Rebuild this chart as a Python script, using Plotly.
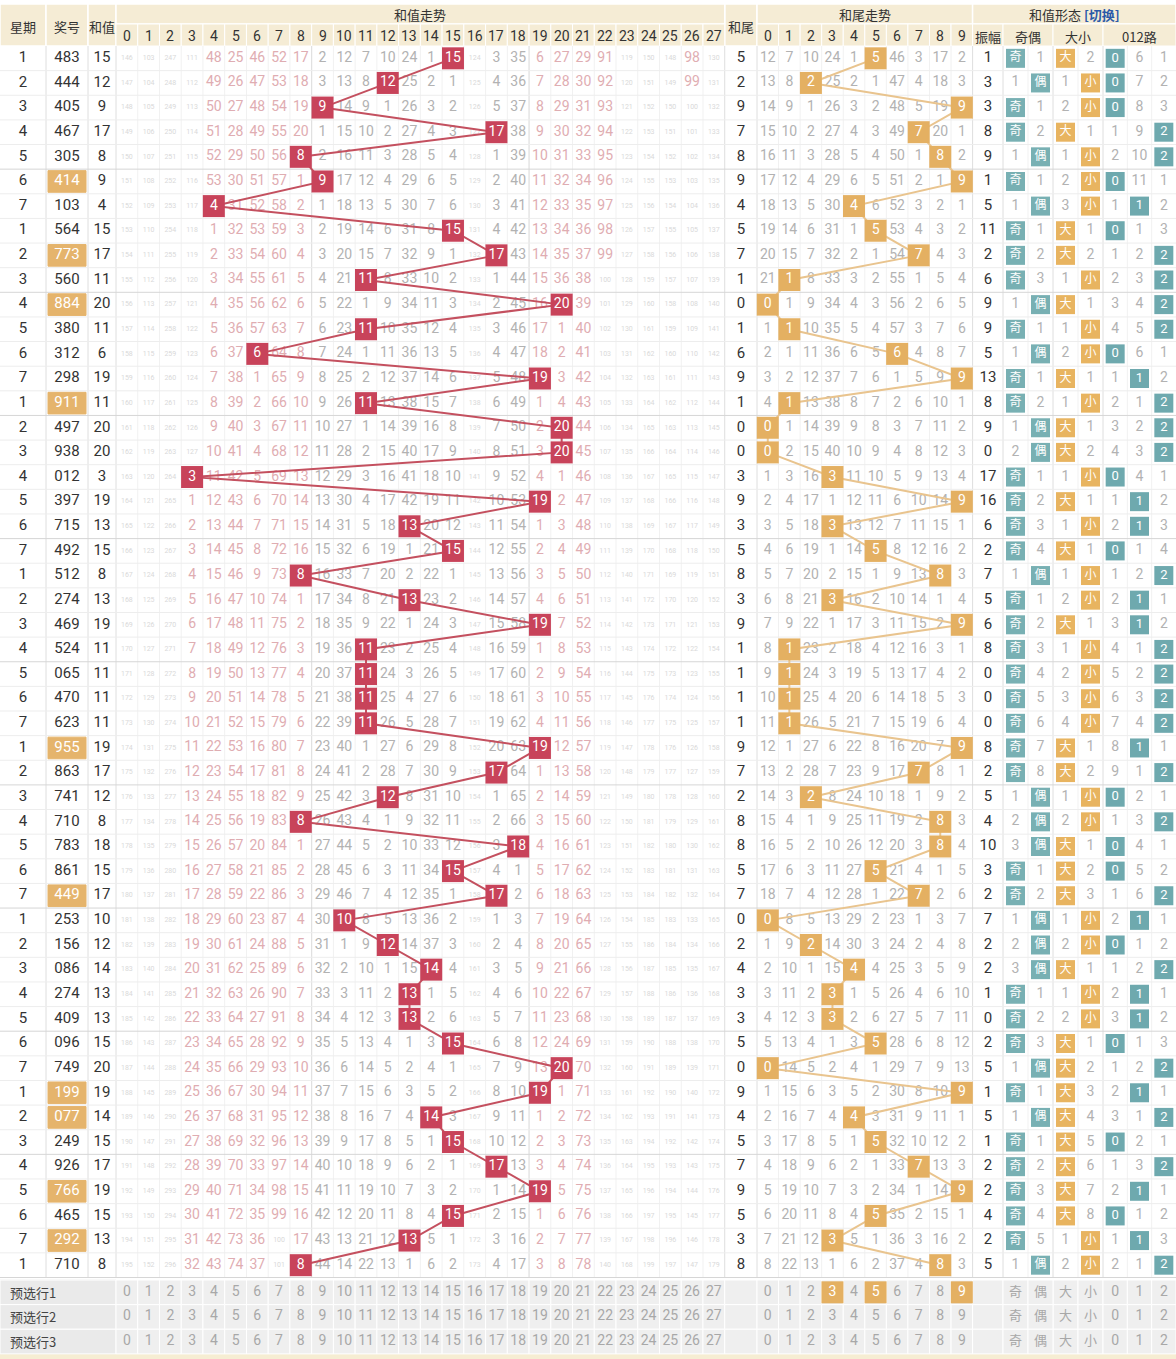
import plotly.graph_objects as go

# ---- data ----
weekday = [1, 2, 3, 4, 5, 6, 7, 1, 2, 3, 4, 5, 6, 7, 1, 2, 3, 4, 5, 6, 7, 1, 2, 3, 4,
           5, 6, 7, 1, 2, 3, 4, 5, 6, 7, 1, 2, 3, 4, 5, 6, 7, 1, 2, 3, 4, 5, 6, 7, 1]
draws = ["483", "444", "405", "467", "305", "414", "103", "564", "773", "560",
         "884", "380", "312", "298", "911", "497", "938", "012", "397", "715",
         "492", "512", "274", "469", "524", "065", "470", "623", "955", "863",
         "741", "710", "783", "861", "449", "253", "156", "086", "274", "409",
         "096", "749", "199", "077", "249", "926", "766", "465", "292", "710"]
sums = [15, 12, 9, 17, 8, 9, 4, 15, 17, 11, 20, 11, 6, 19, 11, 20, 20, 3, 19, 13,
        15, 8, 13, 19, 11, 11, 11, 11, 19, 17, 12, 8, 18, 15, 17, 10, 12, 14, 13, 13,
        15, 20, 19, 14, 15, 17, 19, 15, 13, 8]

# omissions shown on the first row (0 = hit)
sum_first_row = [146, 103, 247, 111, 48, 25, 46, 52, 17, 2, 12, 7, 10, 24, 1, 0,
                 124, 3, 35, 6, 27, 29, 91, 119, 150, 148, 98, 130]
tail_first_row = [12, 7, 10, 24, 1, 0, 46, 3, 17, 2]
odd_even_first = [0, 1]
big_small_first = [0, 2]
route_first = [0, 6, 1]
amp_first = 1
pre_tail_marked = [3, 5, 9]

sum_labels = [str(i) for i in range(28)]
tail_labels = [str(i) for i in range(10)]
odd_even_labels = ["奇", "偶"]
big_small_labels = ["大", "小"]
route_labels = ["0", "1", "2"]

# ---- table geometry (px) ----
W, H = 1176, 1359
HEAD_TOP, HEAD_MID, HEAD_BOT = 4, 24, 46
ROW_H = 24.63
N = len(draws)
DATA_BOT = HEAD_BOT + N * ROW_H
PRE_TOP = DATA_BOT + 2.5
PRE_BOT = PRE_TOP + 3 * ROW_H

SUM_L, SUM_W = 116, 21.74
SUM_R = SUM_L + 28 * SUM_W
TAIL_COL = (SUM_R, 757)
TAIL_L, TAIL_W = 757, 21.56
TAIL_R = TAIL_L + 10 * TAIL_W
AMP = (TAIL_R, 1003)
OE_L, BS_L, RT_L = 1003, 1053, 1103
OE_W, BS_W, RT_W = 25, 25, 24.33

FONT = "Roboto, 'Noto Sans CJK SC', sans-serif"
CJK = "'Noto Sans CJK SC', sans-serif"

RED = "#c8435a"
ORANGE = "#e4b062"
TEAL = "#78b0b3"
BEIGE = "#f5ecd5"
PINK_TXT = "#dfadb2"
GREY_TXT = "#b2b2b2"


def sx(c):
    return SUM_L + (c + 0.5) * SUM_W


def tx(c):
    return TAIL_L + (c + 0.5) * TAIL_W


def ry(r):
    return HEAD_BOT + (r + 0.5) * ROW_H


def py(k):
    return PRE_TOP + (k + 0.5) * ROW_H


def omissions(hits, first, ncol):
    rows, prev = [], None
    for h in hits:
        if prev is None:
            cur = [0 if c == h else first[c] for c in range(ncol)]
        else:
            cur = [0 if c == h else prev[c] + 1 for c in range(ncol)]
        rows.append(cur)
        prev = cur
    return rows


tails = [s % 10 for s in sums]
odd_even = [0 if s % 2 else 1 for s in sums]
big_small = [0 if s >= 14 else 1 for s in sums]
route = [s % 3 for s in sums]
amps = [amp_first] + [abs(sums[i] - sums[i - 1]) for i in range(1, N)]

om_sum = omissions(sums, sum_first_row, 28)
om_tail = omissions(tails, tail_first_row, 10)
om_oe = omissions(odd_even, odd_even_first, 2)
om_bs = omissions(big_small, big_small_first, 2)
om_rt = omissions(route, route_first, 3)

shapes = []


def rect(x0, x1, y0, y1, fill, line="white", lw=1):
    shapes.append(dict(type="rect", xref="x", yref="y", x0=x0, x1=x1, y0=y0, y1=y1,
                       fillcolor=fill, line=dict(color=line, width=lw), layer="below"))


def hline(y, x0, x1, color, w=1):
    shapes.append(dict(type="line", xref="x", yref="y", x0=x0, x1=x1, y0=y, y1=y,
                       line=dict(color=color, width=w), layer="below"))


def vline(x, y0, y1, color, w=1):
    shapes.append(dict(type="line", xref="x", yref="y", x0=x, x1=x, y0=y0, y1=y1,
                       line=dict(color=color, width=w), layer="below"))


# header cells
for x0, x1 in [(0, 46), (46, 88), (88, SUM_L), TAIL_COL]:
    rect(x0, x1, HEAD_TOP, HEAD_BOT, BEIGE, lw=1.5)
for x0, x1 in [(SUM_L, SUM_R), (TAIL_L, TAIL_R), (TAIL_R, W)]:
    rect(x0, x1, HEAD_TOP, HEAD_MID, BEIGE, lw=1.5)
for c in range(28):
    rect(SUM_L + c * SUM_W, SUM_L + (c + 1) * SUM_W, HEAD_MID, HEAD_BOT, BEIGE)
for c in range(10):
    rect(TAIL_L + c * TAIL_W, TAIL_L + (c + 1) * TAIL_W, HEAD_MID, HEAD_BOT, BEIGE)
for x0, x1 in [AMP, (OE_L, OE_L + 2 * OE_W), (BS_L, BS_L + 2 * BS_W), (RT_L, W)]:
    rect(x0, x1, HEAD_MID, HEAD_BOT, BEIGE)

# data grid
for c in range(1, 28):
    vline(SUM_L + c * SUM_W, HEAD_BOT, DATA_BOT, "#f1f1f1")
for c in range(1, 10):
    vline(TAIL_L + c * TAIL_W, HEAD_BOT, DATA_BOT, "#f1f1f1")
for x in [OE_L + OE_W, BS_L + BS_W, RT_L + RT_W, RT_L + 2 * RT_W]:
    vline(x, HEAD_BOT, DATA_BOT, "#f1f1f1")
for x in [46, 88, SUM_L, SUM_L + 9 * SUM_W, SUM_L + 19 * SUM_W, SUM_R, TAIL_L,
          TAIL_R, OE_L, BS_L, RT_L]:
    vline(x, HEAD_BOT, DATA_BOT, "#dedede")
for r in range(1, N + 1):
    hline(HEAD_BOT + r * ROW_H, 0, W, "#d6d6d6" if r % 5 == 0 else "#ededed")

# preselect band
rect(0, SUM_L, PRE_TOP, PRE_BOT, "#e9e9e9", line="#e9e9e9")
for k in range(3):
    y0, y1 = PRE_TOP + k * ROW_H, PRE_TOP + (k + 1) * ROW_H
    rect(0, SUM_L, y0, y1, "#eaeaea")
    for c in range(28):
        rect(SUM_L + c * SUM_W, SUM_L + (c + 1) * SUM_W, y0, y1, "#efefef")
    rect(TAIL_COL[0], TAIL_COL[1], y0, y1, "#efefef")
    for c in range(10):
        rect(TAIL_L + c * TAIL_W, TAIL_L + (c + 1) * TAIL_W, y0, y1, "#efefef")
    rect(AMP[0], AMP[1], y0, y1, "#efefef")
    for i in range(2):
        rect(OE_L + i * OE_W, OE_L + (i + 1) * OE_W, y0, y1, "#efefef")
        rect(BS_L + i * BS_W, BS_L + (i + 1) * BS_W, y0, y1, "#efefef")
    for i in range(3):
        rect(RT_L + i * RT_W, RT_L + (i + 1) * RT_W, y0, y1, "#efefef")
rect(0, W, PRE_BOT + 1, H + 2, "#f6edd3", line="#f6edd3")

# pair (组三) highlight in 奖号
for r, d in enumerate(draws):
    if len(set(d)) == 2:
        rect(48, 86, ry(r) - ROW_H / 2 + 1.5, ry(r) + ROW_H / 2 - 1.5, "#e5b46c",
             line="#e5b46c")

fig = go.Figure()


def text_trace(x, y, t, color, size, family=FONT):
    fig.add_trace(go.Scatter(x=x, y=y, text=t, mode="text", hoverinfo="skip",
                             textposition="middle center",
                             textfont=dict(color=color, size=size, family=family)))


def box_trace(x, y, t, fill, size, tsize, family=FONT):
    fig.add_trace(go.Scatter(x=x, y=y, text=t, mode="markers+text", hoverinfo="skip",
                             textposition="middle center",
                             marker=dict(symbol="square", size=size, color=fill,
                                         line=dict(width=0)),
                             textfont=dict(color="white", size=tsize, family=family)))


# left columns
rows_y = [ry(r) for r in range(N)]
text_trace([23] * N, rows_y, [str(w) for w in weekday], "#333333", 15)
pair_col = ["white" if len(set(d)) == 2 else "#333333" for d in draws]
text_trace([67] * N, rows_y, draws, pair_col, 15)
text_trace([102] * N, rows_y, [str(s) for s in sums], "#333333", 15)
text_trace([741] * N, rows_y, [str(t) for t in tails], "#333333", 15)
text_trace([988] * N, rows_y, [str(a) for a in amps], "#333333", 15)

# omission numbers
ox, oy, ot, oc, osz = [], [], [], [], []
for r in range(N):
    for c in range(28):
        v = om_sum[r][c]
        if v == 0:
            continue
        ox.append(sx(c)); oy.append(ry(r)); ot.append(str(v))
        if v >= 100:
            oc.append("#d9d9d9"); osz.append(7)
        else:
            oc.append(PINK_TXT if (c <= 8 or c >= 19) else GREY_TXT); osz.append(14)
    for c in range(10):
        v = om_tail[r][c]
        if v == 0:
            continue
        ox.append(tx(c)); oy.append(ry(r)); ot.append(str(v))
        oc.append(GREY_TXT); osz.append(14)
    for c in range(2):
        if om_oe[r][c]:
            ox.append(OE_L + (c + 0.5) * OE_W); oy.append(ry(r)); ot.append(str(om_oe[r][c]))
            oc.append(GREY_TXT); osz.append(14)
        if om_bs[r][c]:
            ox.append(BS_L + (c + 0.5) * BS_W); oy.append(ry(r)); ot.append(str(om_bs[r][c]))
            oc.append(GREY_TXT); osz.append(14)
    for c in range(3):
        if om_rt[r][c]:
            ox.append(RT_L + (c + 0.5) * RT_W); oy.append(ry(r)); ot.append(str(om_rt[r][c]))
            oc.append(GREY_TXT); osz.append(14)
fig.add_trace(go.Scatter(x=ox, y=oy, text=ot, mode="text", hoverinfo="skip",
                         textposition="middle center",
                         textfont=dict(color=oc, size=osz, family=FONT)))

# trend lines and balls
fig.add_trace(go.Scatter(x=[sx(s) for s in sums], y=rows_y, mode="lines",
                         hoverinfo="skip", line=dict(color="#c4505f", width=2)))
box_trace([sx(s) for s in sums], rows_y, [str(s) for s in sums], RED, 22, 14)
fig.add_trace(go.Scatter(x=[tx(t) for t in tails], y=rows_y, mode="lines",
                         hoverinfo="skip", line=dict(color="#e9c48e", width=2)))
box_trace([tx(t) for t in tails], rows_y, [str(t) for t in tails], ORANGE, 22, 14)

# form boxes
box_trace([OE_L + (i + 0.5) * OE_W for i in odd_even], rows_y,
          [odd_even_labels[i] for i in odd_even], TEAL, 19, 12, CJK)
box_trace([BS_L + (i + 0.5) * BS_W for i in big_small], rows_y,
          [big_small_labels[i] for i in big_small], "#e8b460", 19, 12, CJK)
box_trace([RT_L + (i + 0.5) * RT_W for i in route], rows_y,
          [route_labels[i] for i in route], "#6ea9ae", 19, 13)

# preselect rows
for k in range(3):
    yk = py(k)
    text_trace([sx(c) for c in range(28)], [yk] * 28, sum_labels, "#a8a8a8", 14)
    tl = [c for c in range(10) if not (k == 0 and c in pre_tail_marked)]
    text_trace([tx(c) for c in tl], [yk] * len(tl), [tail_labels[c] for c in tl],
               "#a8a8a8", 14)
    fx = [OE_L + 0.5 * OE_W, OE_L + 1.5 * OE_W, BS_L + 0.5 * BS_W, BS_L + 1.5 * BS_W]
    text_trace(fx, [yk] * 4, odd_even_labels + big_small_labels, "#a8a8a8", 13, CJK)
    text_trace([RT_L + (i + 0.5) * RT_W for i in range(3)], [yk] * 3, route_labels,
               "#a8a8a8", 14)
box_trace([tx(c) for c in pre_tail_marked], [py(0)] * len(pre_tail_marked),
          [tail_labels[c] for c in pre_tail_marked], ORANGE, 22, 14)

# header texts
ann = []


def head(x, y, t, size=13, family=CJK):
    ann.append(dict(x=x, y=y, xref="x", yref="y", text=t, showarrow=False,
                    font=dict(size=size, color="#333333", family=family)))


hy = (HEAD_TOP + HEAD_BOT) / 2 + 1
head(23, hy, "星期")
head(67, hy, "奖号")
head(102, hy, "和值")
head(741, hy, "和尾")
head((SUM_L + SUM_R) / 2, 14.5, "和值走势")
head((TAIL_L + TAIL_R) / 2, 14.5, "和尾走势")
head((TAIL_R + W) / 2, 14.5,
     "和值形态 <span style='color:#2b5aa8'><b>[切换]</b></span>")
r2 = (HEAD_MID + HEAD_BOT) / 2 + 1
for c in range(28):
    head(sx(c), r2, sum_labels[c], 14, FONT)
for c in range(10):
    head(tx(c), r2, tail_labels[c], 14, FONT)
head(988, r2, "振幅")
head(OE_L + OE_W, r2, "奇偶")
head(BS_L + BS_W, r2, "大小")
head(RT_L + 1.5 * RT_W, r2, "012路")
for k in range(3):
    ann.append(dict(x=8, y=py(k), xref="x", yref="y", text="预选行%d" % (k + 1),
                    showarrow=False, xanchor="left",
                    font=dict(size=13, color="#444444", family=CJK)))

fig.update_layout(
    width=W, height=H, margin=dict(l=0, r=0, t=0, b=0),
    paper_bgcolor="white", plot_bgcolor="white", showlegend=False,
    shapes=shapes, annotations=ann,
    xaxis=dict(range=[0, W], visible=False, fixedrange=True),
    yaxis=dict(range=[H, 0], visible=False, fixedrange=True),
)

fig.write_html("out.html", config={"displayModeBar": False},
               post_script="document.body.style.margin='0';"
                           "document.body.style.overflow='hidden';")
